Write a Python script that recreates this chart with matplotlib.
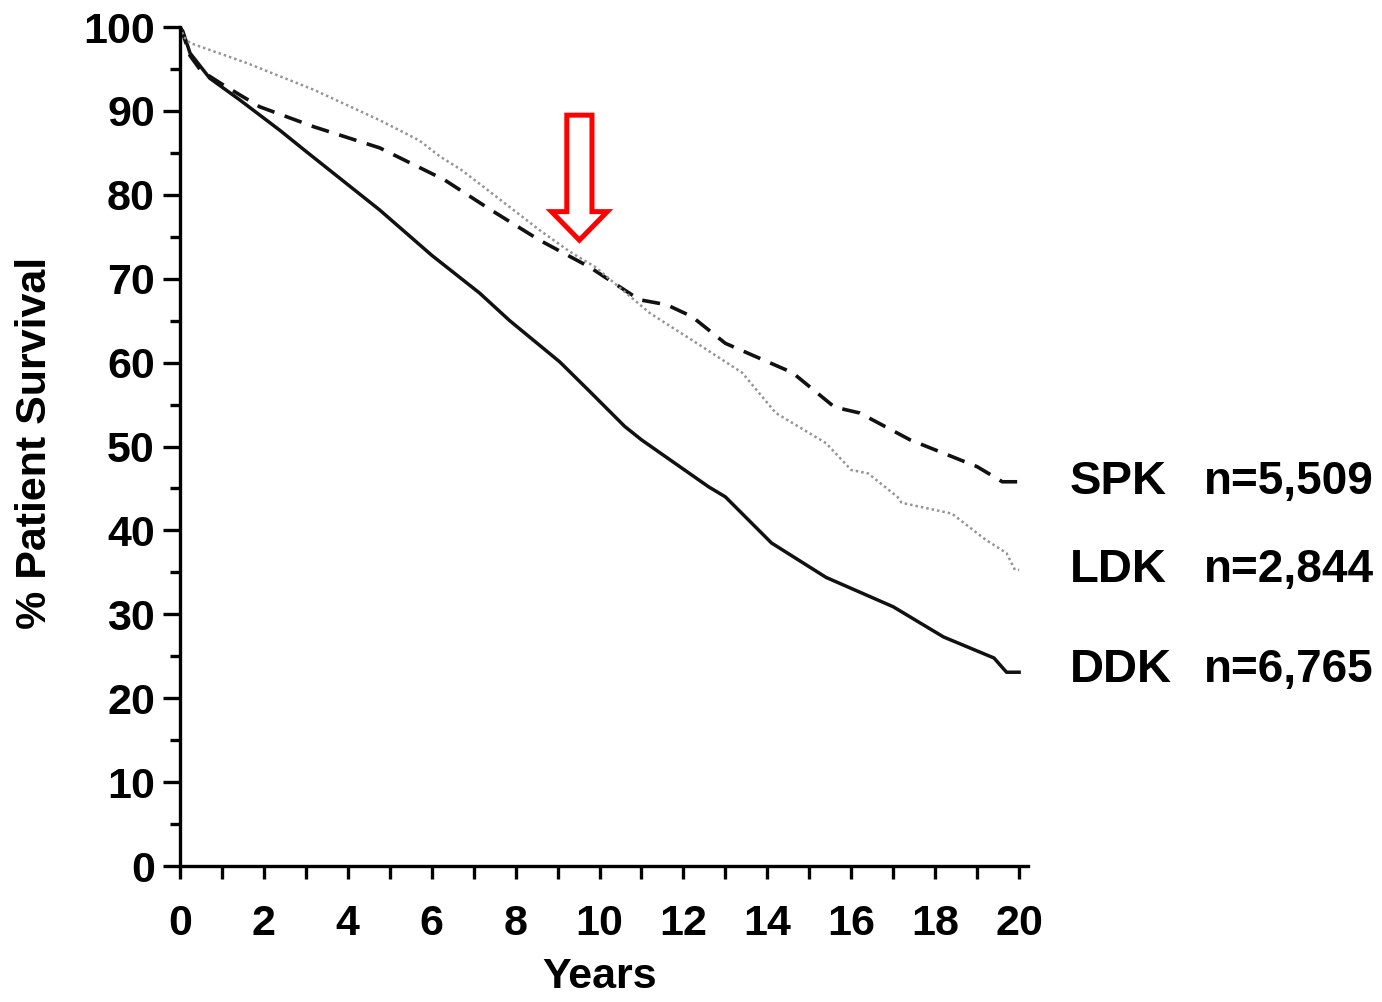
import matplotlib
matplotlib.use("Agg")
import matplotlib.pyplot as plt
from matplotlib.patches import FancyArrow
from matplotlib.ticker import MultipleLocator

plt.rcParams['font.family'] = ['Liberation Sans', 'DejaVu Sans']
plt.rcParams['font.weight'] = 'bold'
plt.rcParams['axes.labelweight'] = 'bold'

# (years, % survival)
ddk_t = [0, 0.07, 0.24, 0.71, 1.43, 2.38, 3.0, 4.76, 6.0, 7.14, 7.86, 9.05, 9.8,
         10.6, 11.0, 12.6, 13.0, 14.1, 15.4, 17.0, 18.2, 19.4, 19.7, 20.0]
ddk_s = [100, 99.5, 96.9, 93.9, 91.3, 87.7, 85.2, 78.2, 72.8, 68.3, 65.0, 60.1, 56.4,
         52.4, 50.8, 45.2, 44.0, 38.5, 34.4, 30.9, 27.3, 24.8, 23.1, 23.1]

spk_t = [0, 0.07, 0.24, 0.5, 1.0, 1.9, 3.2, 4.76, 6.3, 7.38, 8.57, 9.76, 10.95, 11.6,
         12.2, 13.0, 14.6, 15.6, 16.2, 17.4, 19.0, 19.6, 20.0]
spk_s = [100, 99.2, 96.6, 94.8, 93.2, 90.5, 88.1, 85.6, 81.8, 78.3, 74.6, 71.4, 67.5, 66.9,
         65.5, 62.3, 58.8, 54.7, 54.0, 50.8, 47.6, 45.8, 45.8]

ldk_t = [0, 0.1, 0.24, 1.6, 3.2, 4.76, 5.7, 6.19, 6.7, 7.38, 8.57, 9.3, 9.9, 11.2, 12.2,
         13.4, 14.2, 15.4, 16.0, 16.4, 17.1, 17.2, 18.4, 19.2, 19.7, 19.9, 20.0]
ldk_s = [100, 98.8, 98.1, 95.7, 92.5, 88.9, 86.5, 84.6, 83.0, 80.4, 75.8, 73.2, 71.4, 65.9, 62.7,
         58.8, 54.0, 50.4, 47.2, 46.8, 44.0, 43.3, 42.0, 38.9, 37.3, 35.3, 35.3]

groups = ['SPK', 'LDK', 'DDK']
counts = ['n=5,509', 'n=2,844', 'n=6,765']

fig = plt.figure(figsize=(13.82, 10.02), dpi=100)
ax = fig.add_axes([0.1302, 0.1357, 0.6136, 0.8373])

ax.plot(ddk_t, ddk_s, color='#111111', lw=2.5, solid_joinstyle='round')
ax.plot(spk_t, spk_s, color='#111111', lw=2.6, dashes=(5, 3))
ax.plot(ldk_t, ldk_s, color='#959595', lw=1.8, dashes=(1, 1.2))

ax.set_xlim(0, 20.21)
ax.set_ylim(0, 100)
for side in ['top', 'right']:
    ax.spines[side].set_visible(False)
for side in ['left', 'bottom']:
    ax.spines[side].set_linewidth(2.4)

ax.xaxis.set_major_locator(MultipleLocator(2))
ax.xaxis.set_minor_locator(MultipleLocator(1))
ax.yaxis.set_major_locator(MultipleLocator(10))
ax.yaxis.set_minor_locator(MultipleLocator(5))
ax.tick_params(axis='x', which='both', direction='out', length=9, width=2.4,
               labelsize=31, pad=18)
ax.tick_params(axis='y', which='major', direction='out', length=12, width=2.4,
               labelsize=31, pad=6)
ax.tick_params(axis='y', which='minor', direction='out', length=7, width=2.4)

ax.set_xlabel('Years', fontsize=31)
ax.xaxis.set_label_coords(0.495, -0.108)
ax.set_ylabel('% Patient Survival', fontsize=31)
ax.yaxis.set_label_coords(-0.147, 0.504)

# labels at the end of each curve
ends = [spk_s[-1], ldk_s[-1], ddk_s[-1] + 0.3]
for g, n, y in zip(groups, counts, ends):
    ax.text(21.2, y, g, fontsize=34, va='center', ha='left', clip_on=False)
    ax.text(24.4, y, n, fontsize=33, va='center', ha='left', clip_on=False)

# red hollow arrow at the crossing
arrow_x = 9.52
arrow_top = 89.5
arrow_tip = 74.6
arr = FancyArrow(arrow_x, arrow_top, 0, arrow_tip - arrow_top, width=0.6,
                 head_width=1.33, head_length=3.4, length_includes_head=True,
                 fc='white', ec='#ff0000', lw=3.6, clip_on=False, zorder=5)
ax.add_patch(arr)

fig.savefig('out.png', dpi=100)
